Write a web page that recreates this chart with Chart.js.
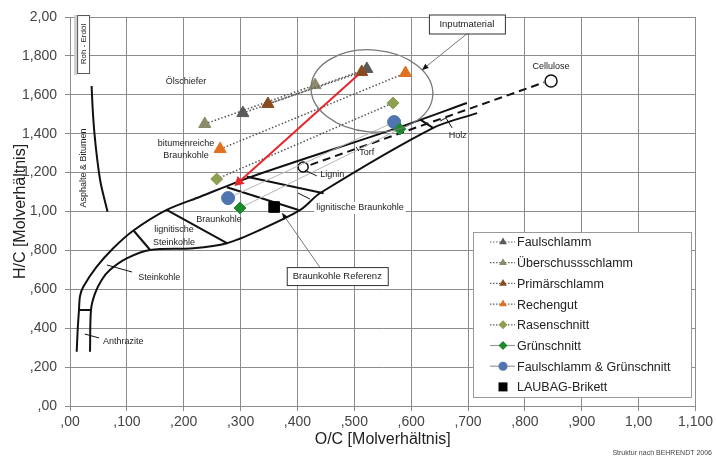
<!DOCTYPE html>
<html>
<head>
<meta charset="utf-8">
<script src="https://cdn.jsdelivr.net/npm/chart.js@4.4.0/dist/chart.umd.min.js"></script>
<style>
  html, body { margin: 0; padding: 0; background: #fff; }
  #wrap { width: 716px; height: 461px; }
</style>
</head>
<body>
<div id="wrap"><canvas id="c" width="716" height="461"></canvas></div>
<script>
// --- DATA (O/C, H/C Molverhältnis) ---
const xTickLabels = [",00", ",100", ",200", ",300", ",400", ",500", ",600", ",700", ",800", ",900", "1,00", "1,100"];
const yTickLabels = [",00", ",200", ",400", ",600", ",800", "1,00", "1,200", "1,400", "1,600", "1,800", "2,00"];

const seriesNames = ["Faulschlamm", "Überschussschlamm", "Primärschlamm", "Rechengut",
  "Rasenschnitt", "Grünschnitt", "Faulschlamm & Grünschnitt", "LAUBAG-Brikett"];

const faulschlammOC = [0.304, 0.522];
const faulschlammHC = [1.506, 1.733];
const ueberschussOC = [0.237, 0.431];
const ueberschussHC = [1.450, 1.650];
const primaerOC = [0.348, 0.513];
const primaerHC = [1.553, 1.717];
const rechengutOC = [0.264, 0.590];
const rechengutHC = [1.321, 1.712];
const rasenOC = [0.258, 0.568];
const rasenHC = [1.167, 1.558];
const gruenOC = [0.299, 0.580];
const gruenHC = [1.018, 1.424];
const faulGruenOC = [0.278, 0.570];
const faulGruenHC = [1.069, 1.460];
const brikettOC = [0.359];
const brikettHC = [1.023];

// Pfeil (rot)
const redOC = [0.506, 0.297];
const redHC = [1.700, 1.152];

// Kohleband (Struktur)
const outerOC = [0.0118, 0.0135, 0.0158, 0.0176, 0.0234, 0.047, 0.076, 0.111, 0.170, 0.229, 0.317, 0.580, 0.698];
const outerHC = [0.279, 0.391, 0.494, 0.565, 0.613, 0.716, 0.811, 0.901, 1.008, 1.076, 1.177, 1.434, 1.558];
const innerOC = [0.0352, 0.0369, 0.044, 0.0557, 0.070, 0.0997, 0.141, 0.217, 0.276, 0.334, 0.405, 0.440, 0.638, 0.716];
const innerHC = [0.279, 0.494, 0.579, 0.648, 0.699, 0.759, 0.802, 0.811, 0.837, 0.905, 1.008, 1.095, 1.429, 1.506];
const anthrazitSepOC = [0.0158, 0.0369];
const anthrazitSepHC = [0.494, 0.494];
const steinSepOC = [0.111, 0.141];
const steinSepHC = [0.905, 0.802];
const lignSteinSepOC = [0.170, 0.276];
const lignSteinSepHC = [1.008, 0.837];
const braunSep1OC = [0.276, 0.402];
const braunSep1HC = [1.125, 1.008];
const braunSep2OC = [0.311, 0.446];
const braunSep2HC = [1.179, 1.094];
const holzSepOC = [0.616, 0.639];
const holzSepHC = [1.472, 1.429];
const asphaltOC = [0.038, 0.040, 0.043, 0.048, 0.054, 0.066];
const asphaltHC = [1.645, 1.522, 1.402, 1.265, 1.145, 0.999];

// Lignin -> Cellulose
const ligninOC = [0.410];
const ligninHC = [1.229];
const celluloseOC = [0.846];
const celluloseHC = [1.671];
const dashOC = [0.423, 0.834];
const dashHC = [1.240, 1.664];

// --- ANNOTATIONS ---
const textLabels = [
  { text: "Ölschiefer", at: [0.204, 1.666], align: "center" },
  { text: "bitumenreiche", at: [0.204, 1.352], align: "center" },
  { text: "Braunkohle", at: [0.204, 1.290], align: "center" },
  { text: "Torf", at: [0.522, 1.301], align: "center" },
  { text: "Lignin", at: [0.440, 1.188], align: "left" },
  { text: "Holz", at: [0.682, 1.393], align: "center" },
  { text: "Cellulose", at: [0.846, 1.743], align: "center" },
  { text: "Braunkohle", at: [0.262, 0.961], align: "center" },
  { text: "lignitische", at: [0.183, 0.905], align: "center" },
  { text: "Steinkohle", at: [0.183, 0.843], align: "center" },
  { text: "Steinkohle", at: [0.120, 0.663], align: "left" },
  { text: "Anthrazite", at: [0.058, 0.329], align: "left" },
  { text: "lignitische Braunkohle", at: [0.433, 1.018], align: "left", bg: true },
  { text: "Asphalte & Bitumen", at: [0.023, 1.224], align: "center", rotate: true }
];
const boxLabels = [
  { text: "Braunkohle Referenz", at: [0.470, 0.668], w: 101, h: 18 },
  { text: "Inputmaterial", at: [0.698, 1.964], w: 76, h: 19 }
];
const leaders = [
  { pts: [[0.065, 0.725], [0.109, 0.689]] },
  { pts: [[0.026, 0.370], [0.051, 0.350]] },
  { pts: [[0.413, 1.213], [0.434, 1.183]] },
  { pts: [[0.401, 1.095], [0.422, 1.064]] },
  { pts: [[0.503, 1.332], [0.508, 1.311]] },
  { pts: [[0.651, 1.465], [0.661, 1.481], [0.672, 1.430]] },
  { pts: [[0.439, 0.715], [0.373, 0.992]], arrow: true, color: "#777" },
  { pts: [[0.700, 1.918], [0.619, 1.728]], arrow: true, color: "#777" }
];
const ellipseCenter = [0.531, 1.620];

const pts = (xs, ys) => xs.map((v, i) => ({ x: v, y: ys[i] }));

function series(i, xs, ys, color, style, radius, line, order) {
  return {
    label: seriesNames[i], data: pts(xs, ys), legend: true, order: order,
    showLine: true, borderColor: line.color, borderWidth: line.width, borderDash: line.dash,
    pointStyle: style, pointRadius: radius, pointBackgroundColor: color,
    pointBorderColor: color, pointBorderWidth: 1, markerColor: color
  };
}
function band(xs, ys, extra) {
  return Object.assign({
    data: pts(xs, ys), showLine: true, borderColor: "#111", borderWidth: 2,
    pointRadius: 0, tension: 0, order: 20
  }, extra || {});
}

const dotted = { color: "#555", width: 1.5, dash: [1.5, 2] };
const thin = { color: "#b5b5b5", width: 1, dash: [] };

const datasets = [
  series(0, faulschlammOC, faulschlammHC, "#5a5a5a", "triangle", 7, dotted, 8),
  series(1, ueberschussOC, ueberschussHC, "#8d8a6c", "triangle", 7, dotted, 7),
  series(2, primaerOC, primaerHC, "#8b4a1e", "triangle", 7, dotted, 6),
  series(3, rechengutOC, rechengutHC, "#e2711f", "triangle", 7, dotted, 5),
  series(4, rasenOC, rasenHC, "#8da052", "rectRot", 6, dotted, 4),
  series(5, gruenOC, gruenHC, "#1d8a2c", "rectRot", 6, thin, 2),
  series(6, faulGruenOC, faulGruenHC, "#4f74b0", "circle", 6.5, thin, 3),
  { label: seriesNames[7], data: pts(brikettOC, brikettHC), legend: true, order: 1,
    pointStyle: "rect", pointRadius: 7.5, pointBackgroundColor: "#000", pointBorderColor: "#000",
    markerColor: "#000", showLine: false },
  { data: pts(redOC, redHC), showLine: true, borderColor: "#e8262a", borderWidth: 2, order: 0,
    pointStyle: "triangle", pointRadius: [0, 4], pointRotation: -132,
    pointBackgroundColor: "#e8262a", pointBorderColor: "#e8262a" },
  band(outerOC, outerHC, { tension: 0.3 }),
  band(innerOC, innerHC, { tension: 0.3 }),
  band(anthrazitSepOC, anthrazitSepHC),
  band(steinSepOC, steinSepHC),
  band(lignSteinSepOC, lignSteinSepHC),
  band(braunSep1OC, braunSep1HC),
  band(braunSep2OC, braunSep2HC),
  band(holzSepOC, holzSepHC),
  band(asphaltOC, asphaltHC, { tension: 0.3 }),
  band(dashOC, dashHC, { borderDash: [8, 5], borderWidth: 2, order: 15 }),
  { data: pts(ligninOC, ligninHC), pointRadius: 5, pointBackgroundColor: "#fff",
    pointBorderColor: "#111", pointBorderWidth: 1.5, order: 9 },
  { data: pts(celluloseOC, celluloseHC), pointRadius: 6, pointBackgroundColor: "#fff",
    pointBorderColor: "#111", pointBorderWidth: 1.5, order: 9 }
];

// --- eigene Marker für die Legende ---
function drawMarker(ctx, style, x, y, r, color) {
  ctx.beginPath();
  if (style === "triangle") {
    ctx.moveTo(x, y - r);
    ctx.lineTo(x + r * 0.866, y + r * 0.5);
    ctx.lineTo(x - r * 0.866, y + r * 0.5);
    ctx.closePath();
  } else if (style === "rectRot") {
    ctx.moveTo(x, y - r); ctx.lineTo(x + r, y); ctx.lineTo(x, y + r); ctx.lineTo(x - r, y);
    ctx.closePath();
  } else if (style === "rect") {
    ctx.rect(x - r, y - r, 2 * r, 2 * r);
  } else {
    ctx.arc(x, y, r, 0, Math.PI * 2);
  }
  ctx.fillStyle = color;
  ctx.fill();
}

const annot = {
  id: "annot",
  afterDatasetsDraw(chart) {
    const { ctx, scales: { x, y } } = chart;
    const px = v => x.getPixelForValue(v);
    const py = v => y.getPixelForValue(v);
    ctx.save();

    // Ellipse Inputmaterial
    ctx.beginPath();
    ctx.ellipse(px(ellipseCenter[0]), py(ellipseCenter[1]), 61, 41, 0.08, 0, Math.PI * 2);
    ctx.strokeStyle = "#777";
    ctx.lineWidth = 1.3;
    ctx.stroke();

    // Hinweislinien
    leaders.forEach(l => {
      ctx.beginPath();
      l.pts.forEach((p, i) => i ? ctx.lineTo(px(p[0]), py(p[1])) : ctx.moveTo(px(p[0]), py(p[1])));
      ctx.strokeStyle = l.color || "#111";
      ctx.lineWidth = 1;
      ctx.stroke();
      if (l.arrow) {
        const a = l.pts[l.pts.length - 2], b = l.pts[l.pts.length - 1];
        const bx = px(b[0]), by = py(b[1]);
        const ang = Math.atan2(by - py(a[1]), bx - px(a[0]));
        ctx.beginPath();
        ctx.moveTo(bx, by);
        ctx.lineTo(bx - 7 * Math.cos(ang - 0.4), by - 7 * Math.sin(ang - 0.4));
        ctx.lineTo(bx - 7 * Math.cos(ang + 0.4), by - 7 * Math.sin(ang + 0.4));
        ctx.closePath();
        ctx.fillStyle = "#111";
        ctx.fill();
      }
    });

    // Beschriftungen
    ctx.font = "9px 'Liberation Sans', Arial, sans-serif";
    ctx.textBaseline = "middle";
    textLabels.forEach(t => {
      const tx = px(t.at[0]), ty = py(t.at[1]);
      ctx.save();
      ctx.translate(tx, ty);
      if (t.rotate) ctx.rotate(-Math.PI / 2);
      ctx.textAlign = t.align;
      if (t.bg) {
        const w = ctx.measureText(t.text).width;
        ctx.fillStyle = "#fff";
        ctx.fillRect(t.align === "left" ? -2 : -w / 2 - 2, -6, w + 4, 12);
      }
      ctx.fillStyle = "#222";
      ctx.fillText(t.text, 0, 0);
      ctx.restore();
    });

    // Kästen
    ctx.textAlign = "center";
    ctx.font = "9.5px 'Liberation Sans', Arial, sans-serif";
    boxLabels.forEach(b => {
      const cx = px(b.at[0]), cy = py(b.at[1]);
      ctx.fillStyle = "#fff";
      ctx.fillRect(cx - b.w / 2, cy - b.h / 2, b.w, b.h);
      ctx.strokeStyle = "#333";
      ctx.lineWidth = 1;
      ctx.strokeRect(cx - b.w / 2 + 0.5, cy - b.h / 2 + 0.5, b.w, b.h);
      ctx.fillStyle = "#222";
      ctx.fillText(b.text, cx, cy + 0.5);
    });

    // Roh - Erdöl
    const rx = px(0.023), ry = py(1.861);
    ctx.fillStyle = "#cfcfcf";
    ctx.fillRect(rx - 9, ry - 29, 3, 60);
    ctx.fillStyle = "#fff";
    ctx.fillRect(rx - 6, ry - 29, 12, 58);
    ctx.strokeStyle = "#555";
    ctx.strokeRect(rx - 5.5, ry - 28.5, 12, 58);
    ctx.save();
    ctx.translate(rx + 0.5, ry);
    ctx.rotate(-Math.PI / 2);
    ctx.font = "8px 'Liberation Sans', Arial, sans-serif";
    ctx.fillStyle = "#222";
    ctx.fillText("Roh - Erdöl", 0, 0);
    ctx.restore();

    ctx.restore();
  },
  afterDraw(chart) {
    const { ctx } = chart;
    ctx.save();
    // Legende
    const L = 473, T = 232, W = 218, H = 165;
    ctx.fillStyle = "#fff";
    ctx.fillRect(L, T, W, H);
    ctx.strokeStyle = "#999";
    ctx.lineWidth = 1;
    ctx.strokeRect(L + 0.5, T + 0.5, W, H);
    ctx.font = "12.5px 'Liberation Sans', Arial, sans-serif";
    ctx.textBaseline = "middle";
    ctx.textAlign = "left";
    chart.data.datasets.filter(d => d.legend).forEach((d, i) => {
      const yy = T + 10 + i * 20.7;
      if (d.showLine) {
        ctx.beginPath();
        ctx.moveTo(L + 17, yy);
        ctx.lineTo(L + 42, yy);
        ctx.strokeStyle = d.borderColor === "#555" ? "#666" : "#999";
        ctx.lineWidth = 1.2;
        ctx.setLineDash(d.borderDash && d.borderDash.length ? [1.5, 1.5] : []);
        ctx.stroke();
        ctx.setLineDash([]);
      }
      drawMarker(ctx, d.pointStyle, L + 30, yy, 4.5, d.markerColor);
      ctx.fillStyle = "#222";
      ctx.fillText(d.label, L + 44, yy + 1);
    });
    // Quelle
    ctx.font = "7px 'Liberation Sans', Arial, sans-serif";
    ctx.textAlign = "right";
    ctx.fillStyle = "#444";
    ctx.fillText("Struktur nach BEHRENDT 2006", 712, 453);
    ctx.restore();
  }
};

const gridColor = "#8c8c8c";
const tickFont = { family: "'Liberation Sans', Arial, sans-serif", size: 14 };

new Chart(document.getElementById("c"), {
  type: "scatter",
  data: { datasets: datasets },
  options: {
    responsive: false,
    animation: false,
    devicePixelRatio: 1,
    layout: { padding: { top: 17, right: 20, bottom: 0, left: 0 } },
    plugins: { legend: { display: false }, tooltip: { enabled: false } },
    scales: {
      x: {
        type: "linear", min: 0, max: 1.1,
        afterFit: s => { s.height = 55; },
        ticks: { stepSize: 0.1, padding: 3, autoSkip: false, maxRotation: 0, color: "#444",
          font: tickFont, callback: (v, i) => xTickLabels[i] },
        grid: { color: gridColor, tickLength: 5 },
        border: { color: gridColor },
        title: { display: true, text: "O/C [Molverhältnis]", color: "#222",
          font: { family: "'Liberation Sans', Arial, sans-serif", size: 16 }, padding: { top: 0, bottom: 12 } }
      },
      y: {
        type: "linear", min: 0, max: 2.0,
        afterFit: s => { s.width = 70; },
        ticks: { stepSize: 0.2, padding: 8, autoSkip: false, color: "#444",
          font: tickFont, callback: (v, i) => yTickLabels[i] },
        grid: { color: gridColor, tickLength: 5 },
        border: { color: gridColor },
        title: { display: true, text: "H/C [Molverhältnis]", color: "#222",
          font: { family: "'Liberation Sans', Arial, sans-serif", size: 16 }, padding: { top: 11, bottom: 0 } }
      }
    }
  },
  plugins: [annot]
});
</script>
</body>
</html>
